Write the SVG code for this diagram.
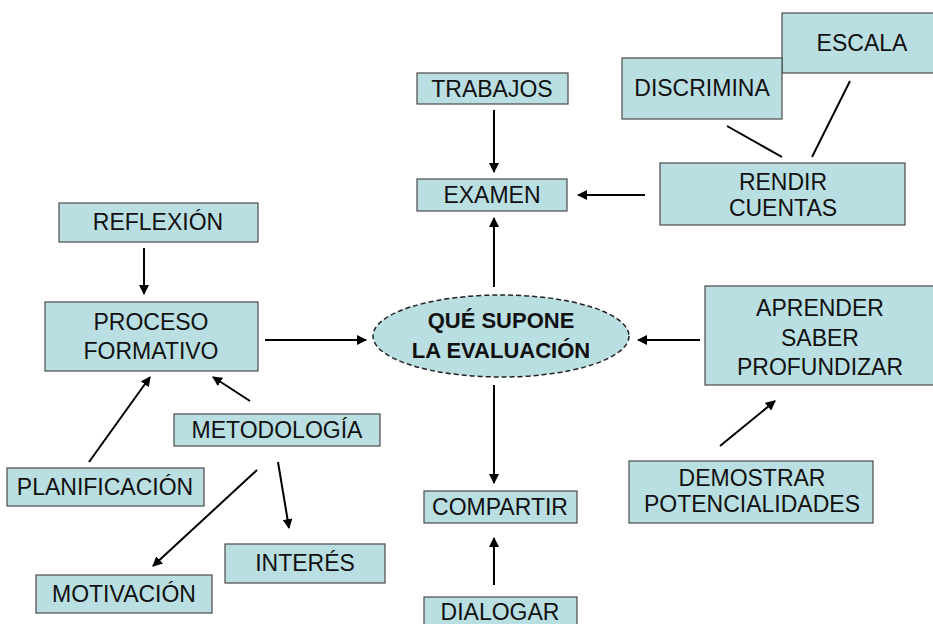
<svg xmlns="http://www.w3.org/2000/svg" width="933" height="624" viewBox="0 0 933 624">
<style>
.box{fill:#B9DFE2;stroke:#4a4a4a;stroke-width:1.2}
.t{font-family:"Liberation Sans",Arial,sans-serif;font-size:23px;fill:#111;text-anchor:middle;dominant-baseline:central}
.b{font-weight:bold;font-size:22px}
.c{stroke:#000;stroke-width:2;fill:none}
</style>
<defs>
<marker id="ah" viewBox="0 0 10 10" refX="9" refY="5" markerWidth="5" markerHeight="5" orient="auto" markerUnits="strokeWidth">
<path d="M0,0 L10,5 L0,10 z" fill="#000"/>
</marker>
</defs>
<rect width="933" height="624" fill="#fff"/>
<g id="connectors">
<line class="c" x1="494" y1="110" x2="494" y2="172" marker-end="url(#ah)"/>
<line class="c" x1="645" y1="195" x2="578" y2="195" marker-end="url(#ah)"/>
<line class="c" x1="727" y1="126" x2="782" y2="157"/>
<line class="c" x1="850" y1="81" x2="812" y2="157"/>
<line class="c" x1="494" y1="287" x2="494" y2="218" marker-end="url(#ah)"/>
<line class="c" x1="144" y1="248" x2="144" y2="294" marker-end="url(#ah)"/>
<line class="c" x1="265" y1="340" x2="366" y2="340" marker-end="url(#ah)"/>
<line class="c" x1="700" y1="340" x2="638" y2="340" marker-end="url(#ah)"/>
<line class="c" x1="720" y1="446" x2="775" y2="401" marker-end="url(#ah)"/>
<line class="c" x1="89" y1="462" x2="150" y2="377" marker-end="url(#ah)"/>
<line class="c" x1="250" y1="401" x2="213" y2="377" marker-end="url(#ah)"/>
<line class="c" x1="257" y1="470" x2="153" y2="566" marker-end="url(#ah)"/>
<line class="c" x1="278" y1="462" x2="289" y2="528" marker-end="url(#ah)"/>
<line class="c" x1="494" y1="385" x2="494" y2="483" marker-end="url(#ah)"/>
<line class="c" x1="494" y1="585" x2="494" y2="538" marker-end="url(#ah)"/>
</g>
<g id="trabajos"><rect class="box" x="417" y="73" width="151" height="31"/><text class="t" x="492" y="89">TRABAJOS</text></g>
<g id="examen"><rect class="box" x="417" y="179" width="150" height="32"/><text class="t" x="492" y="195">EXAMEN</text></g>
<g id="escala"><rect class="box" x="782" y="13" width="155" height="60"/><text class="t" x="862" y="43">ESCALA</text></g>
<g id="discrimina"><rect class="box" x="622" y="58" width="160" height="61"/><text class="t" x="702" y="88">DISCRIMINA</text></g>
<g id="rendir"><rect class="box" x="660" y="163" width="245" height="62"/><text class="t" x="783" y="182">RENDIR</text><text class="t" x="783" y="208">CUENTAS</text></g>
<g id="reflexion"><rect class="box" x="59" y="203" width="199" height="39"/><text class="t" x="158" y="222">REFLEXIÓN</text></g>
<g id="proceso"><rect class="box" x="45" y="302" width="213" height="69"/><text class="t" x="151" y="322">PROCESO</text><text class="t" x="151" y="351">FORMATIVO</text></g>
<g id="evaluacion"><ellipse cx="501" cy="336" rx="128" ry="41" fill="#B9DFE2" stroke="#222" stroke-width="1.5" stroke-dasharray="5 3"/><text class="t b" x="501" y="320">QUÉ SUPONE</text><text class="t b" x="501" y="350">LA EVALUACIÓN</text></g>
<g id="aprender"><rect class="box" x="705" y="286" width="232" height="99"/><text class="t" x="820" y="308">APRENDER</text><text class="t" x="820" y="338">SABER</text><text class="t" x="820" y="367">PROFUNDIZAR</text></g>
<g id="metodologia"><rect class="box" x="174" y="414" width="206" height="32"/><text class="t" x="277" y="430">METODOLOGÍA</text></g>
<g id="planificacion"><rect class="box" x="7" y="468" width="197" height="38"/><text class="t" x="105" y="487">PLANIFICACIÓN</text></g>
<g id="demostrar"><rect class="box" x="629" y="461" width="244" height="62"/><text class="t" x="752" y="478">DEMOSTRAR</text><text class="t" x="752" y="504">POTENCIALIDADES</text></g>
<g id="compartir"><rect class="box" x="424" y="491" width="153" height="32"/><text class="t" x="500" y="507">COMPARTIR</text></g>
<g id="interes"><rect class="box" x="225" y="544" width="160" height="39"/><text class="t" x="305" y="563">INTERÉS</text></g>
<g id="motivacion"><rect class="box" x="36" y="575" width="176" height="38"/><text class="t" x="124" y="594">MOTIVACIÓN</text></g>
<g id="dialogar"><rect class="box" x="424" y="597" width="153" height="40"/><text class="t" x="500" y="612">DIALOGAR</text></g>
</svg>
